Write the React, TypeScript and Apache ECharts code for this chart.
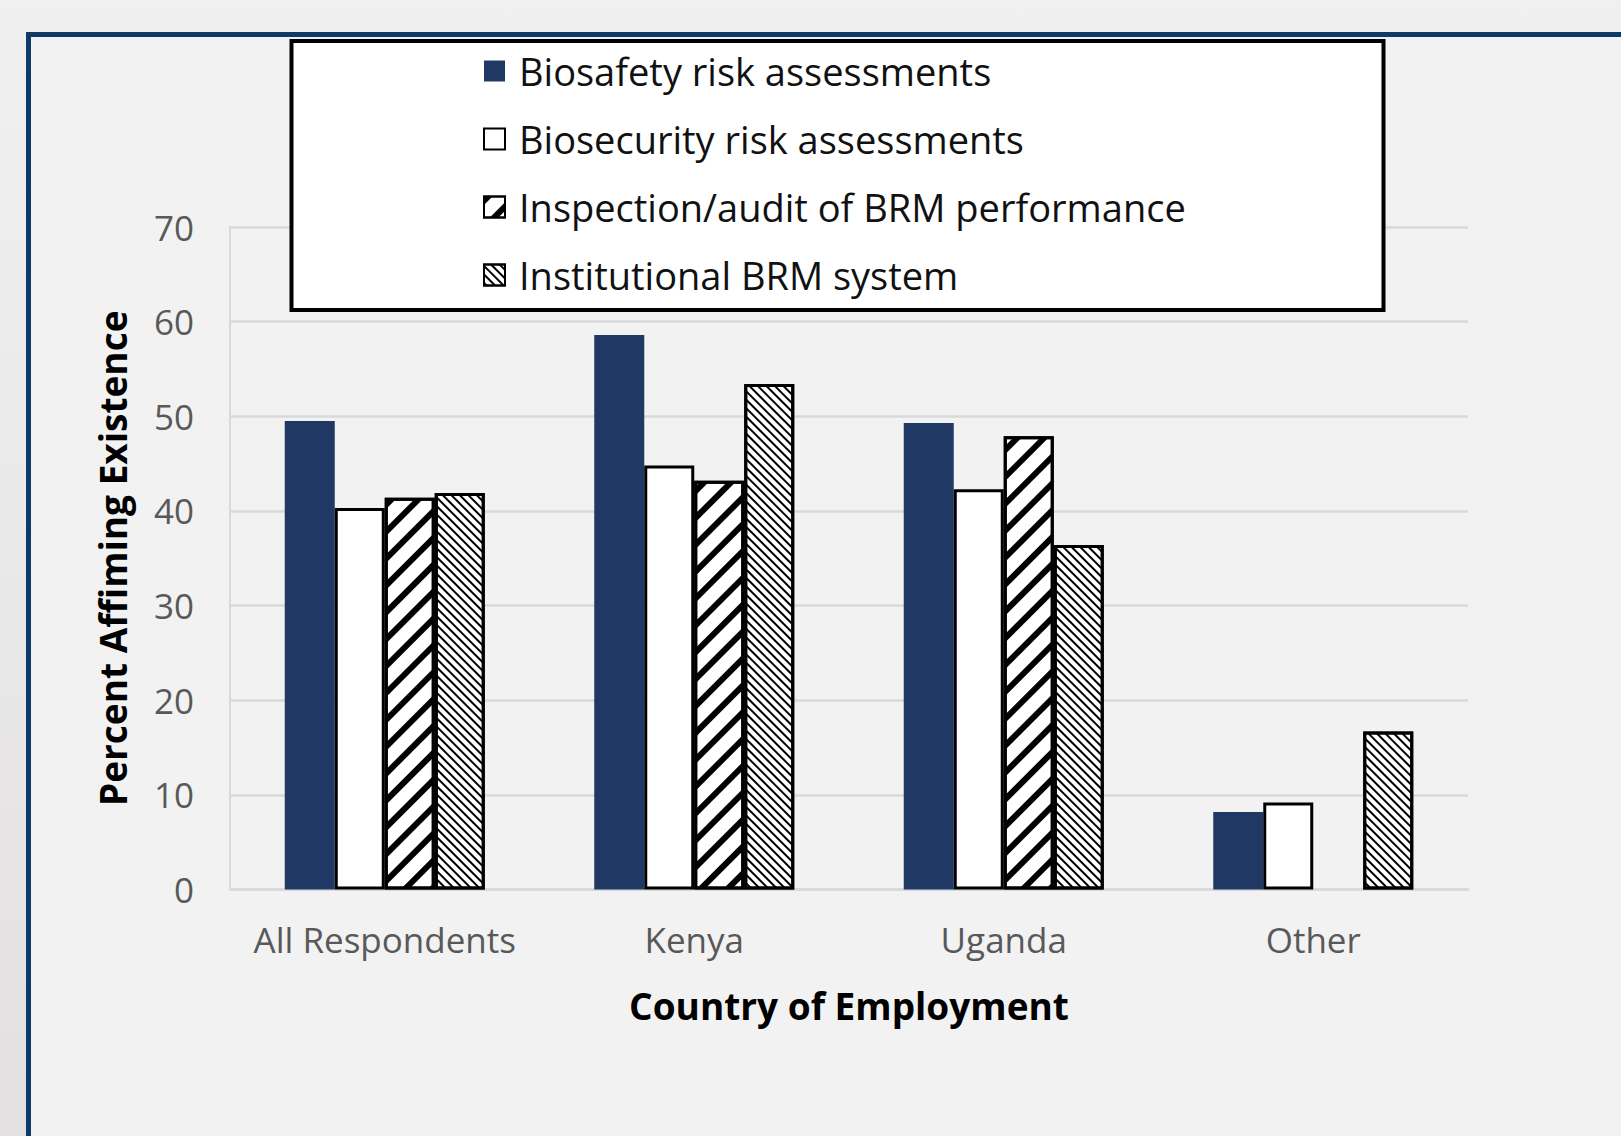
import React, { useEffect, useRef } from "react";
import * as echarts from "echarts";

const categories = ["All Respondents", "Kenya", "Uganda", "Other"];
const seriesNames = [
  "Biosafety risk assessments",
  "Biosecurity risk assessments",
  "Inspection/audit of BRM performance",
  "Institutional BRM system",
];
const biosafety = [49.5, 58.6, 49.3, 8.2];
const biosecurity = [40.3, 44.8, 42.3, 9.2];
const inspection = [41.4, 43.2, 47.9, 0];
const institutional = [41.9, 53.4, 36.4, 16.7];
const yTicks = { min: 0, max: 70, interval: 10 };

const FONT = "Open Sans";

export default function App() {
  const ref = useRef<HTMLDivElement>(null);
  useEffect(() => {
    document.body.style.margin = "0";
    if (!ref.current) return;
    const chart = echarts.init(ref.current, undefined, { renderer: "svg" });

    const toData = (arr: number[], bordered: boolean) =>
      arr.map((v) =>
        v === 0 && bordered ? { value: v, itemStyle: { borderWidth: 0 } } : v
      );

    const thickHatch = {
      symbol: "rect",
      symbolSize: 1,
      color: "#000",
      backgroundColor: "#fff",
      dashArrayX: [1, 0],
      dashArrayY: [6, 13],
      rotation: -Math.PI / 4,
    };
    const thinHatch = {
      symbol: "rect",
      symbolSize: 1,
      color: "#000",
      backgroundColor: "#fff",
      dashArrayX: [1, 0],
      dashArrayY: [2, 3.5],
      rotation: Math.PI / 4,
    };

    const option: any = {
      animation: false,
      backgroundColor: "transparent",
      textStyle: { fontFamily: FONT },
      graphic: [
        {
          type: "rect",
          z: -20,
          silent: true,
          shape: { x: 0, y: 0, width: 1621, height: 1136 },
          style: {
            fill: new echarts.graphic.LinearGradient(0, 0, 0, 1, [
              { offset: 0, color: "#f1f0f0" },
              { offset: 1, color: "#e2e0e0" },
            ]),
          },
        },
        {
          type: "rect",
          z: -19,
          silent: true,
          shape: { x: 28.5, y: 34.5, width: 1700, height: 1300 },
          style: { fill: "#f2f2f2", stroke: "#0d3a66", lineWidth: 5 },
        },
        {
          type: "rect",
          z: 3,
          silent: true,
          shape: { x: 291.5, y: 41, width: 1092, height: 269 },
          style: { fill: "#ffffff", stroke: "#000000", lineWidth: 4 },
        },
      ],
      legend: {
        orient: "vertical",
        left: 483,
        top: 51,
        padding: 0,
        z: 10,
        itemWidth: 21,
        itemHeight: 21,
        itemGap: 28,
        icon: "rect",
        selectedMode: false,
        textStyle: {
          fontFamily: FONT,
          fontSize: 38,
          color: "#111111",
          lineHeight: 40,
          padding: [0, 0, 0, 9],
        },
        data: seriesNames,
      },
      grid: { left: 230, right: 153, top: 227, bottom: 246.5, containLabel: false },
      xAxis: {
        type: "category",
        data: categories,
        axisTick: { show: false },
        axisLine: { lineStyle: { color: "#d9d9d9", width: 2.5 } },
        axisLabel: {
          interval: 0,
          color: "#595959",
          fontFamily: FONT,
          fontSize: 35,
          margin: 32,
        },
        name: "Country of Employment",
        nameLocation: "middle",
        nameGap: 97,
        nameTextStyle: {
          color: "#000",
          fontFamily: FONT,
          fontWeight: "bold",
          fontSize: 37,
        },
      },
      yAxis: {
        type: "value",
        min: yTicks.min,
        max: yTicks.max,
        interval: yTicks.interval,
        axisLine: { show: true, lineStyle: { color: "#d9d9d9", width: 2 } },
        axisTick: { show: false },
        splitLine: { lineStyle: { color: "#d9d9d9", width: 2.5 } },
        axisLabel: {
          color: "#595959",
          fontFamily: FONT,
          fontSize: 35,
          margin: 36,
        },
        name: "Percent Affiming Existence",
        nameLocation: "middle",
        nameGap: 99,
        nameTextStyle: {
          color: "#000",
          fontFamily: FONT,
          fontWeight: "bold",
          fontSize: 37,
        },
      },
      series: [
        {
          name: seriesNames[0],
          type: "bar",
          barWidth: 50,
          barGap: "0%",
          data: toData(biosafety, false),
          itemStyle: { color: "#1f3864" },
        },
        {
          name: seriesNames[1],
          type: "bar",
          barWidth: 50,
          barGap: "0%",
          data: toData(biosecurity, true),
          itemStyle: { color: "#ffffff", borderColor: "#000", borderWidth: 3 },
        },
        {
          name: seriesNames[2],
          type: "bar",
          barWidth: 50,
          barGap: "0%",
          data: toData(inspection, true),
          itemStyle: {
            color: "#ffffff",
            borderColor: "#000",
            borderWidth: 3,
            decal: thickHatch,
          },
        },
        {
          name: seriesNames[3],
          type: "bar",
          barWidth: 50,
          barGap: "0%",
          data: toData(institutional, true),
          itemStyle: {
            color: "#ffffff",
            borderColor: "#000",
            borderWidth: 3,
            decal: thinHatch,
          },
        },
      ],
    };
    chart.setOption(option);
    return () => chart.dispose();
  }, []);
  return <div ref={ref} style={{ width: 1621, height: 1136 }} />;
}
